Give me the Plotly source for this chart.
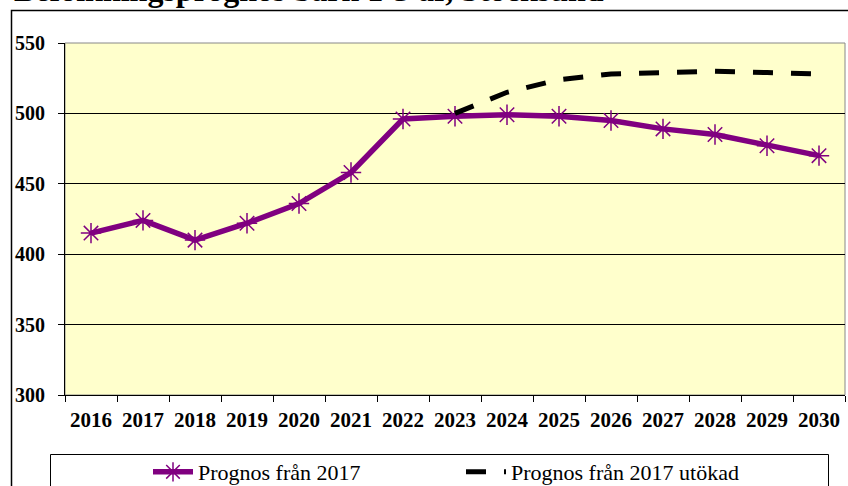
import plotly.graph_objects as go

years = [str(y) for y in range(2016, 2031)]
prognos_2017 = [415, 424, 410, 422, 436, 458, 496, 498, 499, 498, 495, 489, 485, 477, 470]
prognos_utokad = [None]*7 + [500, 515, 524, 528, 529, 530, 529, 528]
y_ticks = [300, 350, 400, 450, 500, 550]

fig = go.Figure()
fig.add_trace(go.Scatter(
    x=years, y=prognos_2017, mode="lines+markers", name="Prognos från 2017",
    line=dict(color="#800080", width=5.5),
    marker=dict(symbol="asterisk-open", size=17, color="#800080",
                line=dict(color="#800080", width=1.5)),
))
fig.add_trace(go.Scatter(
    x=years, y=prognos_utokad, mode="lines", name="Prognos från 2017 utökad",
    line=dict(color="black", width=5, dash="20px,18px"),
))

W, H = 848, 486
ml, mr, mt, mb = 65, 3, 43, 91
pw, ph = W - ml - mr, H - mt - mb

def px(x):
    return (x - ml) / pw

def py(y):
    return (H - mb - y) / ph

fig.update_layout(
    width=W, height=H,
    margin=dict(l=ml, r=mr, t=mt, b=mb, pad=0, autoexpand=False),
    paper_bgcolor="white", plot_bgcolor="#FFFFCC",
    font=dict(family="Liberation Serif", color="black"),
    showlegend=True,
    legend=dict(orientation="h", xref="container", yref="container",
                x=148 / W, y=1 - 472 / H, xanchor="left", yanchor="middle",
                bgcolor="rgba(0,0,0,0)", borderwidth=0,
                font=dict(family="Liberation Serif", size=22, color="black"),
                entrywidth=258, entrywidthmode="pixels", itemwidth=40),
    xaxis=dict(type="category", showgrid=False, showline=True, linecolor="black", linewidth=1,
               ticks="outside", tickson="boundaries", ticklen=6, tickcolor="black",
               ticklabelstandoff=6, automargin=False,
               tickfont=dict(family="Liberation Serif", size=21, color="black", weight="bold"),
               range=[-0.5, 14.5]),
    yaxis=dict(range=[300, 550], tickvals=y_ticks, showgrid=True, gridcolor="black", gridwidth=1,
               showline=True, linecolor="black", linewidth=1, ticks="outside", ticklen=6,
               tickcolor="black", zeroline=False, ticklabelstandoff=9, automargin=False,
               tickfont=dict(family="Liberation Serif", size=20, color="black", weight="bold")),
    shapes=[
        dict(type="rect", xref="paper", yref="paper", x0=0, x1=1, y0=0, y1=1,
             line=dict(color="#888888", width=1), layer="below"),
        dict(type="rect", xref="paper", yref="paper", x0=px(11.5), x1=px(852), y0=py(600), y1=py(10.5),
             line=dict(color="black", width=1.5)),
        dict(type="rect", xref="paper", yref="paper", x0=px(50.5), x1=px(828.5), y0=py(600), y1=py(454.5),
             line=dict(color="black", width=1)),
    ],
    annotations=[
        dict(text="<b>Befolkningsprognos barn 1-5 år, Stocksund</b>", xref="paper", yref="paper",
             x=px(12), y=py(10.5), xanchor="left", yanchor="bottom", showarrow=False,
             font=dict(family="Liberation Serif", size=32, color="black")),
    ],
)

fig.write_html("out.html", config={"displayModeBar": False},
               post_script="document.body.style.margin='0';document.body.style.overflow='hidden';")
